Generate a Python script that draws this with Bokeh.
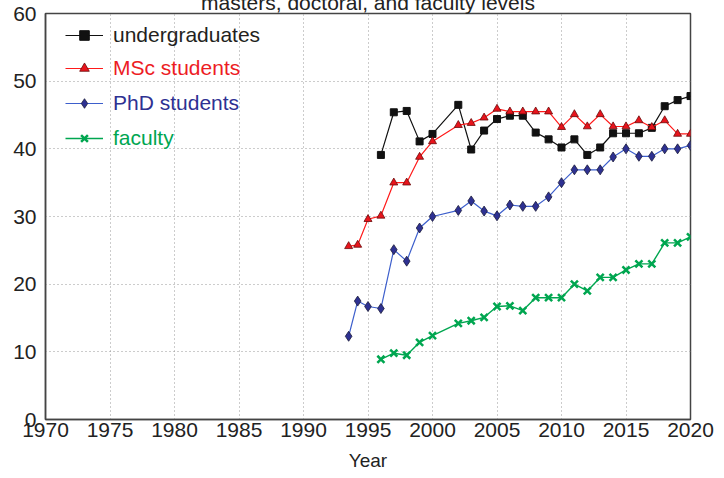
from bokeh.plotting import figure
from bokeh.models import FixedTicker, Legend, LegendItem
from bokeh.embed import file_html
from bokeh.resources import INLINE

FONT = "Liberation Sans"

ug_years = [1996, 1997, 1998, 1999, 2000, 2002, 2003, 2004, 2005, 2006, 2007, 2008,
            2009, 2010, 2011, 2012, 2013, 2014, 2015, 2016, 2017, 2018, 2019, 2020]
ug_vals = [39.1, 45.4, 45.6, 41.1, 42.2, 46.5, 39.9, 42.7, 44.4, 44.9, 44.9, 42.4,
           41.4, 40.2, 41.4, 39.1, 40.2, 42.3, 42.3, 42.3, 43.1, 46.3, 47.2, 47.8]

msc_years = [1993.5, 1994.2, 1995, 1996, 1997, 1998, 1999, 2000, 2002, 2003, 2004, 2005,
             2006, 2007, 2008, 2009, 2010, 2011, 2012, 2013, 2014, 2015, 2016, 2017,
             2018, 2019, 2020]
msc_vals = [25.6, 25.8, 29.6, 30.1, 35.0, 35.0, 38.8, 41.1, 43.5, 43.8, 44.6, 45.9,
            45.5, 45.5, 45.5, 45.5, 43.2, 45.1, 43.3, 45.1, 43.3, 43.3, 44.2, 43.2,
            44.2, 42.2, 42.2]

phd_years = list(msc_years)
phd_vals = [12.3, 17.5, 16.7, 16.4, 25.1, 23.4, 28.3, 30.0, 30.9, 32.3, 30.8, 30.1,
            31.7, 31.5, 31.5, 32.9, 35.0, 36.9, 36.9, 36.9, 38.8, 40.0, 38.9, 38.9,
            40.0, 40.0, 40.5]

fac_years = list(ug_years)
fac_vals = [8.9, 9.8, 9.5, 11.4, 12.4, 14.2, 14.6, 15.1, 16.7, 16.8, 16.1, 18.0,
            18.0, 18.0, 20.0, 19.0, 21.0, 21.0, 22.1, 23.0, 23.0, 26.1, 26.1, 27.0]

x_ticks = [1970, 1975, 1980, 1985, 1990, 1995, 2000, 2005, 2010, 2015, 2020]
y_ticks = [0, 10, 20, 30, 40, 50, 60]

p = figure(width=716, height=490, output_backend="svg", toolbar_location=None,
           x_range=(1970, 2020), y_range=(0, 60),
           min_border_left=45, min_border_right=26, min_border_top=24, min_border_bottom=59,
           styles={"margin-top": "-12px"})

p.title.text = "masters, doctoral, and faculty levels"
p.title.align = "center"
p.title.text_font = FONT
p.title.text_font_size = "21px"
p.title.text_font_style = "normal"
p.title.text_color = "#222222"
p.title.standoff = 0
p.title.offset = -6

p.outline_line_color = "#444444"
p.outline_line_width = 1.5
p.background_fill_color = "white"
p.border_fill_color = "white"

for ax in (p.xaxis[0], p.yaxis[0]):
    ax.axis_line_color = "#444444"
    ax.axis_line_width = 1.5
    ax.major_tick_line_color = None
    ax.minor_tick_line_color = None
    ax.major_tick_out = 0
    ax.major_tick_in = 0
    ax.minor_tick_out = 0
    ax.minor_tick_in = 0
    ax.major_label_text_font = FONT
    ax.major_label_text_font_size = "21px"
    ax.major_label_text_color = "#222222"

p.xaxis.ticker = FixedTicker(ticks=x_ticks)
p.yaxis.ticker = FixedTicker(ticks=y_ticks)
p.xaxis.major_label_standoff = 3
p.yaxis.major_label_standoff = 9
p.xaxis.axis_label = "Year"
p.xaxis.axis_label_text_font = FONT
p.xaxis.axis_label_text_font_size = "19px"
p.xaxis.axis_label_text_font_style = "normal"
p.xaxis.axis_label_text_color = "#222222"
p.xaxis.axis_label_standoff = 10

p.xgrid.grid_line_color = "#999999"
p.xgrid.grid_line_dash = "1 3"
p.ygrid.grid_line_color = "#999999"
p.ygrid.grid_line_dash = "1 3"

# undergraduates
ug_l = p.line(ug_years, ug_vals, line_color="#111111", line_width=1.2)
ug_m = p.scatter(ug_years, ug_vals, marker="square", size=7, fill_color="#111111",
                 line_color="#111111")
# MSc
msc_l = p.line(msc_years, msc_vals, line_color="#ff1a1a", line_width=1.2)
msc_m = p.scatter(msc_years, msc_vals, marker="triangle", size=8, fill_color="#e8141c",
                  line_color="#6a0a0a", line_width=0.8)
# PhD
phd_l = p.line(phd_years, phd_vals, line_color="#3d5fcc", line_width=1.2)
phd_m = p.scatter(phd_years, phd_vals, marker="diamond", size=10, fill_color="#2e3192",
                  line_color="#1a1a3a", line_width=0.8)
# faculty
fac_l = p.line(fac_years, fac_vals, line_color="#00a650", line_width=1.4)
fac_m = p.scatter(fac_years, fac_vals, marker="x", size=10, line_color="#00a650",
                  line_width=2.5)

legend_specs = [
    ("undergraduates", [ug_l, ug_m], "#231f20", 372),
    ("MSc students", [msc_l, msc_m], "#ed1c24", 339),
    ("PhD students", [phd_l, phd_m], "#2e3192", 304),
    ("faculty", [fac_l, fac_m], "#00a651", 269),
]
for label, rends, col, ypos in legend_specs:
    lg = Legend(items=[LegendItem(label=label, renderers=rends)],
                location=(20, ypos), padding=0, margin=0, spacing=0,
                glyph_width=38, glyph_height=24, label_height=24, label_standoff=10,
                label_text_font=FONT, label_text_font_size="21px", label_text_color=col,
                background_fill_alpha=0, border_line_alpha=0)
    p.add_layout(lg, "center")

open("out.html", "w").write(file_html(p, INLINE))
